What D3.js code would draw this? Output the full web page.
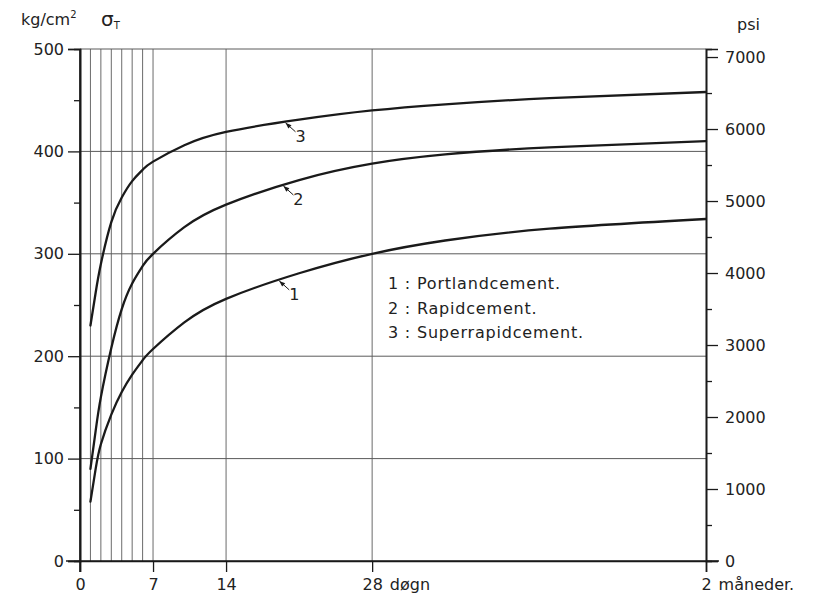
<!DOCTYPE html>
<html>
<head>
<meta charset="utf-8">
<script src="https://cdn.jsdelivr.net/npm/d3@7"></script>
<style>
  html, body { margin: 0; padding: 0; background: #fff; }
  svg { display: block; }
  text { font-family: "DejaVu Sans", sans-serif; fill: #222; }
</style>
</head>
<body>
<svg id="chart" width="822" height="597"></svg>
<script>
// Compressive strength of concrete versus age, three cement types
const days       = [1, 1.5, 2, 3, 4, 5, 6, 7, 10, 14, 21, 28, 35, 45, 60];
const portland   = [58, 90, 114, 143, 165, 182, 196, 207, 233, 256, 281, 300, 313, 324.5, 334];
const rapid      = [90, 127, 160, 208, 246, 271, 288, 300, 326, 348, 372, 388, 397, 404, 410];
const superRapid = [230, 262, 290, 331, 355, 371, 382, 390, 406, 419, 431, 440, 446, 452, 458];

const seriesIds    = ["1", "2", "3"];
const legendLabels = ["1 : Portlandcement.", "2 : Rapidcement.", "3 : Superrapidcement."];
const calloutDays  = [19.0, 19.4, 19.6];

const kgTicks      = [0, 100, 200, 300, 400, 500];
const kgMinorTicks = [50, 150, 250, 350, 450];
const psiTicks     = [0, 1000, 2000, 3000, 4000, 5000, 6000, 7000];
const psiMinorTicks = [500, 1500, 2500, 3500, 4500, 5500, 6500];
const dayTicks     = [0, 7, 14, 28, 60];
const dayTickNums  = ["0", "7", "14", "28", "2"];
const dayTickUnits = ["", "", "", "døgn", "måneder."];
const dayGrid      = [1, 2, 3, 4, 5, 6, 7, 14, 28];
const kgGrid       = [100, 200, 300, 400, 500];
const KG_TO_PSI = 14.223;

const svg = d3.select("#chart");
const plotLeft = 80, plotRight = 706, plotTop = 49, plotBottom = 561;

const x = d3.scaleLinear().domain([0, 60]).range([plotLeft, plotRight]);
const y = d3.scaleLinear().domain([0, 500]).range([plotBottom, plotTop]);
const yPsi = d3.scaleLinear().domain([0, 500 * KG_TO_PSI]).range([plotBottom, plotTop]);

const ink = "#1a1a1a";
const gridInk = "#5a5a5a";

// grid
svg.append("g").selectAll("line").data(dayGrid).join("line")
  .attr("x1", d => x(d)).attr("x2", d => x(d))
  .attr("y1", plotTop).attr("y2", plotBottom)
  .attr("stroke", gridInk).attr("stroke-width", 0.9);
svg.append("g").selectAll("line").data(kgGrid).join("line")
  .attr("x1", plotLeft).attr("x2", plotRight)
  .attr("y1", d => y(d)).attr("y2", d => y(d))
  .attr("stroke", gridInk).attr("stroke-width", 1);

// left axis (kg/cm2)
svg.append("g").attr("transform", `translate(${plotLeft},0)`)
  .call(d3.axisLeft(y).tickValues(kgTicks).tickSize(12).tickPadding(4).tickFormat(d3.format("d")));
svg.append("g").attr("transform", `translate(${plotLeft},0)`)
  .call(d3.axisLeft(y).tickValues(kgMinorTicks).tickSize(6).tickFormat(""));

// right axis (psi)
svg.append("g").attr("transform", `translate(${plotRight},0)`)
  .call(d3.axisRight(yPsi).tickValues(psiTicks).tickSize(12).tickPadding(7).tickFormat(d3.format("d")));
svg.append("g").attr("transform", `translate(${plotRight},0)`)
  .call(d3.axisRight(yPsi).tickValues(psiMinorTicks).tickSize(6).tickFormat(""));

// bottom axis (age)
const bottomAxis = svg.append("g").attr("transform", `translate(0,${plotBottom})`)
  .call(d3.axisBottom(x).tickValues(dayTicks).tickSize(11).tickPadding(7)
    .tickFormat((d, i) => dayTickNums[i]));

svg.selectAll(".domain").attr("stroke", ink).attr("stroke-width", 1.6);
svg.selectAll(".tick line").attr("stroke", ink).attr("stroke-width", 1.3);
svg.selectAll(".tick text").attr("font-size", 16).attr("fill", "#222")
  .attr("font-family", "DejaVu Sans, sans-serif");

// extend the axis lines past their ranges like the drafted frame
svg.append("line").attr("x1", plotLeft - 14).attr("x2", plotRight + 13)
  .attr("y1", plotBottom).attr("y2", plotBottom).attr("stroke", ink).attr("stroke-width", 1.6);
svg.append("line").attr("x1", plotLeft).attr("x2", plotLeft)
  .attr("y1", plotTop).attr("y2", plotBottom + 11).attr("stroke", ink).attr("stroke-width", 1.6);

// unit words after the day numbers
bottomAxis.selectAll(".tick").each(function(d, i) {
  if (!dayTickUnits[i]) return;
  const t = d3.select(this).select("text");
  const w = t.node().getComputedTextLength();
  d3.select(this).append("text")
    .attr("x", w / 2 + 7).attr("y", t.attr("y")).attr("dy", t.attr("dy"))
    .attr("text-anchor", "start")
    .attr("font-size", 16).attr("fill", "#222")
    .attr("font-family", "DejaVu Sans, sans-serif")
    .text(dayTickUnits[i]);
});

// unit titles
const kgTitle = svg.append("text").attr("x", 21).attr("y", 25).attr("font-size", 16);
kgTitle.append("tspan").text("kg/cm");
kgTitle.append("tspan").attr("font-size", 10).attr("dy", -7).text("2");
const sigma = svg.append("text").attr("x", 101).attr("y", 26).attr("font-size", 20);
sigma.append("tspan").text("σ");
sigma.append("tspan").attr("font-size", 10).attr("dy", 3).text("T");
svg.append("text").attr("x", 737).attr("y", 30).attr("font-size", 16).text("psi");

// strength curves
const series = [portland, rapid, superRapid];
const line = d3.line().x(d => x(d[0])).y(d => y(d[1])).curve(d3.curveNatural);
const paths = series.map(vals =>
  svg.append("path")
    .datum(days.map((d, i) => [d, vals[i]]))
    .attr("d", line)
    .attr("fill", "none").attr("stroke", ink).attr("stroke-width", 2.3)
    .attr("stroke-linecap", "round")
);

// point on a drawn path at a given screen x
function pointAtX(pathSel, px) {
  const node = pathSel.node();
  let lo = 0, hi = node.getTotalLength();
  for (let k = 0; k < 40; k++) {
    const mid = (lo + hi) / 2;
    if (node.getPointAtLength(mid).x < px) lo = mid; else hi = mid;
  }
  return node.getPointAtLength((lo + hi) / 2);
}

// numbered call-outs with small arrows
seriesIds.forEach((id, i) => {
  const p = pointAtX(paths[i], x(calloutDays[i]));
  const g = svg.append("g");
  const ex = p.x + 11, ey = p.y + 10;
  g.append("line").attr("x1", p.x + 1).attr("y1", p.y + 1).attr("x2", ex).attr("y2", ey)
    .attr("stroke", ink).attr("stroke-width", 1);
  // arrowhead pointing at the curve
  const ang = Math.atan2(ey - p.y, ex - p.x);
  const L = 6, W = 2.3;
  const ax = p.x + 1, ay = p.y + 1;
  const bx = ax + L * Math.cos(ang), by = ay + L * Math.sin(ang);
  g.append("path")
    .attr("d", `M${ax},${ay}L${bx - W * Math.sin(ang)},${by + W * Math.cos(ang)}L${bx + W * Math.sin(ang)},${by - W * Math.cos(ang)}Z`)
    .attr("fill", ink);
  g.append("text").attr("x", p.x + 16).attr("y", p.y + 20)
    .attr("text-anchor", "middle").attr("font-size", 16).text(id);
});

// legend
svg.append("g").selectAll("text").data(legendLabels).join("text")
  .attr("x", 388).attr("y", (d, i) => 289 + i * 24.5)
  .attr("font-size", 16).attr("letter-spacing", 0.8)
  .text(d => d);
</script>
</body>
</html>
